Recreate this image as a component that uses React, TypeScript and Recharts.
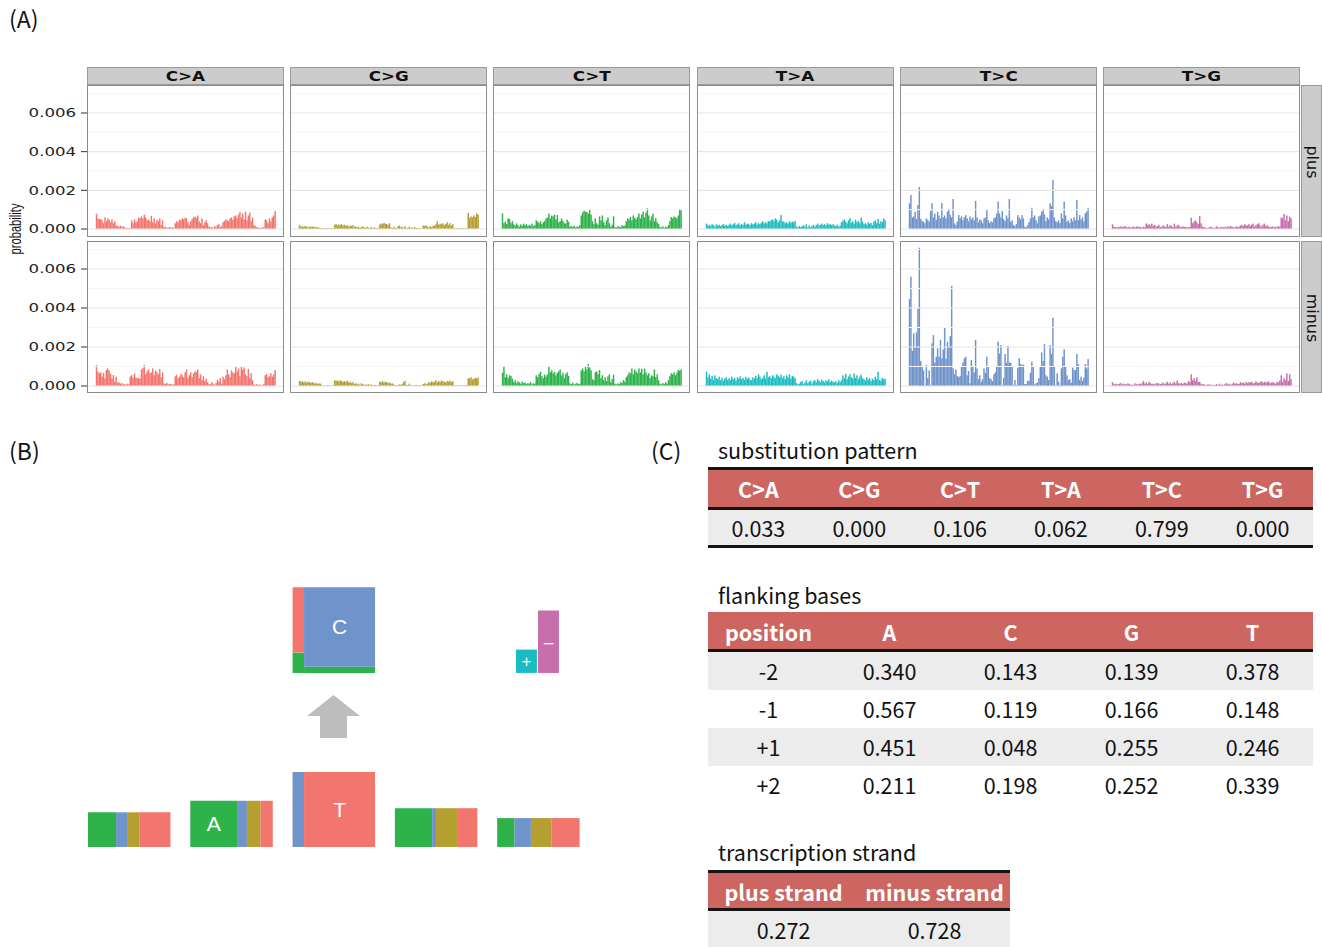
import React from 'react';
import { BarChart, Bar, XAxis, YAxis, ReferenceLine, ComposedChart, ReferenceArea, Scatter, Label } from 'recharts';

// ---------- Panel A data (probability, in units of 1e-5) ----------
const SUBSTITUTIONS = ['C>A', 'C>G', 'C>T', 'T>A', 'T>C', 'T>G'];
const STRANDS = ['plus', 'minus'];
const Y_TICKS = [0, 0.002, 0.004, 0.006];
const Y_MINOR = [0.001, 0.003, 0.005, 0.007];

const CA_PLUS = [79,55,50,52,45,30,60,40,55,48,35,50,30,40,20,15,
12,18,10,15,8,5,5,5,6,45,30,50,35,40,60,55,
65,55,74,60,45,50,40,68,35,55,30,48,40,55,20,45,
10,12,8,6,10,8,9,5,30,40,35,48,45,55,50,58,
55,35,20,40,52,60,64,58,70,40,30,55,20,35,45,30,
12,8,10,5,15,10,20,25,10,15,35,42,50,45,40,55,
60,48,65,70,55,75,88,60,80,50,90,45,70,85,40,60,
20,15,10,8,6,5,10,8,50,45,30,55,40,60,70,92];
const CA_MINUS = [108,74,65,70,48,68,39,82, 90,79,62,39,56,22,48,17, 20,12,15,8,10,6,12,8, 48,56,42,65,45,40,40,38,
85,92,108,60,75,85,65,70, 90,55,80,70,60,88,45,70, 14,10,16,8,12,10,6,10, 50,58,40,48,62,55,45,70,
85,40,55,70,45,65,75,72, 85,40,60,30,50,25,38,20, 10,8,20,12,6,15,30,22, 40,12,48,35,55,85,60,45,
80,70,65,100,75,90,50,103, 85,95,60,50,88,40,65,30, 8,6,10,5,8,4,6,10, 55,62,45,50,65,48,60,82];
const CG_PLUS = [22,12,15,10,16,14,8,12,10,14,9,12,8,10,6,5,
4,3,4,3,5,3,4,4,3,22,26,18,24,20,25,18,
22,15,20,12,18,16,20,10,14,8,12,6,10,14,8,5,
12,6,4,10,5,8,6,4,4,22,28,25,31,28,26,20,
30,8,5,10,6,4,14,18,8,12,5,15,4,6,12,5,
8,5,10,4,6,3,4,3,18,15,20,12,8,14,10,16,
18,24,40,22,28,25,30,20,26,35,22,30,18,25,4,4,
4,3,4,3,4,4,3,5,83,57,65,60,70,62,80,75];
const CG_MINUS = [27,20,25,18,24,17,22,20,15,20,18,12,16,10,14,12,
3,3,3,2,3,3,2,3,3,30,26,28,22,30,24,22,
25,20,28,18,22,15,20,10,15,8,12,6,14,10,5,8,
6,10,5,8,4,6,5,4,3,22,20,24,18,22,20,15,
18,12,14,8,5,4,5,8,6,10,20,26,6,5,12,4,
4,3,4,6,3,5,3,4,10,14,8,12,20,16,24,20,
22,30,18,26,20,28,24,22,18,26,22,28,20,25,4,3,
3,3,4,3,3,3,4,3,40,38,45,34,36,42,38,44];
const CT_PLUS = [81,30,38,25,55,52,30,41, 24,17,29,20,12,24,17,28, 20,25,15,22,18,28,15,20, 45,38,30,40,25,35,42,55,
60,80,55,70,65,75,50,72, 35,40,55,42,30,28,48,38, 12,15,10,18,8,14,10,20, 70,85,95,90,88,80,104,75,
40,25,55,30,22,65,45,70, 35,20,45,60,30,12,22,66, 10,8,14,12,10,20,15,18, 40,55,50,62,45,70,58,50,
62,80,55,75,90,60,85,107, 70,45,65,80,40,55,35,25, 10,8,14,6,12,10,20,40, 62,55,65,60,55,70,104,98];
const CT_MINUS = [68,103,45,60,40,55,52,38, 20,30,15,25,18,12,22,15, 18,10,15,12,20,8,14,12, 55,45,62,73,50,40,58,48,
60,103,70,80,65,72,55,68, 75,85,55,68,40,62,70,52, 14,10,18,8,12,16,10,12, 80,90,75,100,85,113,95,80,
35,30,70,75,60,82,40,55, 30,45,25,50,60,20,35,58, 12,8,14,10,20,15,30,22, 45,55,70,65,90,60,85,75,
65,90,70,88,60,90,70,55, 65,40,55,50,85,45,60,30, 12,8,15,10,20,12,30,50, 65,60,70,55,68,82,78,85];
const TA_PLUS = [28,18,22,15,25,20,12,24,18,22,15,20,25,18,22,16,
22,28,18,25,32,20,24,30,18,26,20,35,22,28,25,20,
30,24,28,35,22,30,26,32,40,28,35,30,42,38,45,50,
40,55,48,35,45,72,40,38,30,35,28,40,32,38,35,42,
12,8,15,10,14,20,12,25,8,18,10,14,22,12,20,28,
18,22,28,20,25,18,30,22,26,20,25,18,15,22,12,18,
35,42,50,38,30,45,55,32,40,28,48,35,42,30,60,38,
25,30,22,35,28,32,20,38,45,30,52,28,40,35,55,45];
const TA_MINUS = [73,45,60,38,52,30,55,40,35,48,30,42,28,38,45,32,
40,30,48,35,42,28,45,38,50,35,42,30,48,36,44,32,
30,45,38,52,40,60,48,35,42,55,38,73,45,50,40,55,
48,40,60,52,45,58,40,50,35,55,45,60,38,52,48,40,
15,8,12,20,25,10,18,30,14,22,28,12,24,30,18,35,
28,20,32,25,18,30,24,35,20,28,22,18,25,15,30,20,
30,55,40,62,35,48,60,45,38,65,42,55,35,48,58,40,
35,28,45,32,40,25,38,30,48,35,73,30,28,42,35,38];
const TC_PLUS = [133,176,59,64,90,52,124,218, 52,41,38,29,55,47,38,93, 133,60,80,47,90,70,55,135, 60,70,55,90,105,72,60,155,
29,20,38,72,55,65,45,60, 72,55,40,65,50,60,45,145, 60,35,50,45,30,55,60,98, 45,30,40,35,55,60,80,142,
81,60,93,50,40,70,55,155, 38,45,20,15,25,72,60,50, 72,55,12,10,20,35,55,110, 60,70,45,30,65,70,90,105,
75,40,60,50,133,120,253,60, 40,35,45,30,81,55,142,70, 38,45,30,55,40,60,45,150, 45,72,50,60,38,81,90,110];
const TC_MINUS = [446,561,180,270,196,275,395,709, 128,100,80,5,108,40,80,5, 219,261,120,150,193,150,236,142, 188,301,140,227,202,256,513,91,
60,85,51,45,51,103,120,142, 150,55,77,14,133,103,70,236, 90,35,55,22,35,90,68,150, 100,40,35,25,60,70,100,227,
167,210,5,43,164,120,205,120, 120,103,5,30,5,94,142,113, 108,110,10,10,27,27,68,125, 100,8,14,17,40,100,172,128,
215,55,48,30,210,164,350,100, 5,65,22,5,90,150,188,100, 55,30,35,17,94,82,82,164, 113,30,48,27,43,113,90,138];
const TG_PLUS = [24,12,10,8,12,10,14,9,12,15,8,10,12,7,10,12,
9,12,14,10,10,8,12,10,29,20,25,18,28,15,22,12,
15,22,10,12,18,14,10,25,12,20,15,10,28,12,18,22,
12,10,14,10,12,8,10,10,58,30,38,45,35,25,67,30,
12,10,8,5,6,10,12,8,5,7,14,10,6,12,8,10,
12,8,14,10,16,12,10,8,14,10,12,18,22,15,25,20,
18,25,15,22,28,12,20,25,30,18,12,22,28,15,20,12,
12,10,14,8,12,10,15,12,60,55,78,45,70,40,65,55];
const TG_MINUS = [20,10,12,8,10,12,15,8,12,10,8,14,10,6,8,5,
14,10,8,12,10,15,25,12,18,10,22,15,10,12,8,14,
15,12,10,12,18,10,14,22,12,18,10,15,22,12,28,15,
12,16,10,18,15,12,25,20,60,30,40,25,45,20,22,12,
8,10,5,6,10,5,8,4,6,5,10,5,12,6,8,5,
10,15,8,12,6,10,18,12,15,10,12,20,15,18,12,22,
15,20,18,22,14,16,24,18,15,20,25,16,22,18,20,24,
14,18,20,16,12,22,18,28,55,20,40,30,65,25,60,35];

const PLUS_SERIES = [CA_PLUS, CG_PLUS, CT_PLUS, TA_PLUS, TC_PLUS, TG_PLUS];
const MINUS_SERIES = [CA_MINUS, CG_MINUS, CT_MINUS, TA_MINUS, TC_MINUS, TG_MINUS];

// ---------- Panel B / C data ----------
const BASES = ['A', 'C', 'G', 'T'];
const FLANK_POSITIONS = ['-2', '-1', '+1', '+2'];
const FLANK_A = [0.340, 0.567, 0.451, 0.211];
const FLANK_C = [0.143, 0.119, 0.048, 0.198];
const FLANK_G = [0.139, 0.166, 0.255, 0.252];
const FLANK_T = [0.378, 0.148, 0.246, 0.339];
const SUBST_PROB = [0.033, 0.000, 0.106, 0.062, 0.799, 0.000];
const STRAND_LABELS = ['plus strand', 'minus strand'];
const STRAND_PROB = [0.272, 0.728];
// logo block heights (relative units) for flank positions, reference base and substituted base
const FLANK_HEIGHT = [0.42, 0.56, 0.47, 0.35];
const REF_HEIGHT = 0.91;
const ALT_HEIGHT = 1.04;

const FACET_COLORS = ['#F3766E', '#B59F30', '#2EB34B', '#1DBDC2', '#6F93CB', '#C96EAA'];
const BASE_COLORS: Record<string, string> = { A: '#2EB34B', C: '#6F93CB', G: '#B59F30', T: '#F3766E' };
const STRAND_COLORS = ['#1BBCC1', '#C76EAB'];
const RED = '#CD6661';
const GRAY_ROW = '#EBECEB';
const JP = '"Noto Sans CJK JP", "Noto Sans", sans-serif';

const PANEL_W = 197;
const PANEL_H = 152;
const PANEL_PITCH = 203.2;
const PANEL_LEFT0 = 87;
const ROW_TOPS = [85, 241];
const DOMAINS: [number, number][] = [[-0.000414, 0.007448], [-0.000359, 0.007436]];

const AxisTick = (p: any) => (
  <g transform={`translate(${p.x},${p.y})`}>
    <text textAnchor="end" dy="0.36em" transform="scale(1.38,1)" fontSize={12}
      fontFamily="DejaVu Sans" fill="#222">{Number(p.payload.value).toFixed(3)}</text>
  </g>
);

function Facet({ values, color, left, top, domain, showAxis }: any) {
  const data = values.map((v: number, i: number) => ({ i, v: v * 1e-5 }));
  const axisW = showAxis ? 87 : 0;
  const shape = (p: any) => {
    const w = 1.45;
    const cx = p.x + p.width / 2;
    return <rect x={cx - w / 2} y={p.y} width={w} height={Math.max(0, p.height)} fill={color} />;
  };
  return (
    <div style={{ position: 'absolute', left: left - axisW, top, width: PANEL_W + axisW, height: PANEL_H }}>
      <BarChart width={PANEL_W + axisW} height={PANEL_H} data={data}
        margin={{ top: 0, right: 0, bottom: 0, left: 0 }} barCategoryGap={0}>
        <XAxis dataKey="i" hide padding={{ left: 9, right: 8 }} />
        <YAxis type="number" hide={!showAxis} width={axisW} domain={domain} allowDataOverflow interval={0}
          ticks={Y_TICKS} axisLine={false} tickLine={{ stroke: '#333' }} tickSize={6} tickMargin={5}
          tick={<AxisTick />} />
        {Y_MINOR.map((v) => <ReferenceLine key={'m' + v} y={v} stroke="#F6F6F6" strokeWidth={1} />)}
        {Y_TICKS.map((v) => <ReferenceLine key={'M' + v} y={v} stroke="#E6E6E6" strokeWidth={1.2} />)}
        <Bar dataKey="v" fill={color} isAnimationActive={false} shape={shape} />
      </BarChart>
      <div style={{ position: 'absolute', left: axisW, top: 0, width: PANEL_W, height: PANEL_H,
        border: '1px solid #8C8C8C', boxSizing: 'border-box', pointerEvents: 'none' }} />
    </div>
  );
}

function Txt({ x, y, children, size = 21, weight = 400, color = '#111', align = 'left', w = 300, font = JP, style = {} }: any) {
  const h = size * 1.6;
  const left = align === 'center' ? x - w / 2 : x;
  return (
    <div style={{ position: 'absolute', left, top: y - h / 2, width: w, height: h, lineHeight: h + 'px',
      fontSize: size, fontWeight: weight, color, textAlign: align, fontFamily: font, whiteSpace: 'nowrap', ...style }}>
      {children}
    </div>
  );
}

function Rule({ x, y, w, h, c = '#141414' }: any) {
  return <div style={{ position: 'absolute', left: x, top: y, width: w, height: h, background: c }} />;
}

// ---------- Panel B (logo) ----------
const SLOT = 1.24;
function buildLogo() {
  const rects: any[] = [];
  const flankSlots = [0, 1, 3, 4];
  FLANK_POSITIONS.forEach((_, k) => {
    const probs = [FLANK_A[k], FLANK_C[k], FLANK_G[k], FLANK_T[k]];
    let x = flankSlots[k] * SLOT;
    probs.forEach((p, b) => {
      rects.push({ x1: x, x2: x + p, y1: 0, y2: FLANK_HEIGHT[k], fill: BASE_COLORS[BASES[b]], label: p >= 0.5 ? BASES[b] : null });
      x += p;
    });
  });
  const cTot = SUBST_PROB[0] + SUBST_PROB[1] + SUBST_PROB[2];
  const tTot = SUBST_PROB[3] + SUBST_PROB[4] + SUBST_PROB[5];
  const x0 = 2 * SLOT;
  rects.push({ x1: x0, x2: x0 + cTot, y1: 0, y2: REF_HEIGHT, fill: BASE_COLORS.C, label: cTot >= 0.5 ? 'C' : null });
  rects.push({ x1: x0 + cTot, x2: x0 + 1, y1: 0, y2: REF_HEIGHT, fill: BASE_COLORS.T, label: tTot >= 0.5 ? 'T' : null });
  const yb = 2.109;
  const colC = [['A', SUBST_PROB[0]], ['G', SUBST_PROB[1]], ['T', SUBST_PROB[2]]] as [string, number][];
  const colT = [['A', SUBST_PROB[3]], ['C', SUBST_PROB[4]], ['G', SUBST_PROB[5]]] as [string, number][];
  let y = yb;
  colC.forEach(([b, p]) => {
    const h = (p / cTot) * ALT_HEIGHT;
    if (h > 0) rects.push({ x1: x0, x2: x0 + cTot, y1: y, y2: y + h, fill: BASE_COLORS[b], label: null });
    y += h;
  });
  y = yb;
  colT.forEach(([b, p]) => {
    const h = (p / tTot) * ALT_HEIGHT;
    if (h > 0) rects.push({ x1: x0 + cTot, x2: x0 + 1, y1: y, y2: y + h, fill: BASE_COLORS[b], label: p / tTot >= 0.5 ? b : null });
    y += h;
  });
  const sx = [[5.188, 5.442], [5.455, 5.709]];
  ['+', '–'].forEach((lab, i) => {
    rects.push({ x1: sx[i][0], x2: sx[i][1], y1: yb, y2: yb + STRAND_PROB[i] * ALT_HEIGHT, fill: STRAND_COLORS[i], label: lab, small: true });
  });
  return rects;
}

const arrowShape = (p: any) => {
  const { x, y, width: w, height: h } = p;
  const pts = [
    [x + w / 2, y], [x + w, y + h * 0.49], [x + w * 0.755, y + h * 0.49], [x + w * 0.755, y + h],
    [x + w * 0.245, y + h], [x + w * 0.245, y + h * 0.49], [x, y + h * 0.49],
  ].map((q) => q.join(',')).join(' ');
  return <polygon points={pts} fill="#BDBDBD" />;
};

function Logo() {
  const rects = buildLogo();
  return (
    <div style={{ position: 'absolute', left: 80, top: 570, width: 500, height: 290 }}>
      <ComposedChart width={500} height={290} margin={{ top: 0, right: 0, bottom: 0, left: 0 }}>
        <XAxis type="number" dataKey="x" domain={[-0.097, 5.964]} hide allowDataOverflow />
        <YAxis type="number" dataKey="y" domain={[-0.158, 3.357]} hide allowDataOverflow />
        <Scatter data={[{ x: 0, y: 0 }]} fill="none" isAnimationActive={false} />
        {rects.map((r, i) => (
          <ReferenceArea key={i} x1={r.x1} x2={r.x2} y1={r.y1} y2={r.y2} fill={r.fill} fillOpacity={1} stroke="none">
            {r.label ? <Label value={r.label} position="center" fill="#FFFFFF"
              fontSize={r.small ? 17 : 21} fontFamily="Liberation Sans" /> : null}
          </ReferenceArea>
        ))}
        <ReferenceArea x1={2.655} x2={3.297} y1={1.321} y2={1.842} shape={arrowShape} fillOpacity={1} />
      </ComposedChart>
    </div>
  );
}

export default function App() {
  const colCenters6 = SUBSTITUTIONS.map((_, i) => 708 + 605 / 6 * (i + 0.5));
  const colCenters5 = [0, 1, 2, 3, 4].map((i) => 708 + 121 * (i + 0.5));
  const flankRows = FLANK_POSITIONS.map((p, k) => [p, FLANK_A[k], FLANK_C[k], FLANK_G[k], FLANK_T[k]]);
  const rowTops = [652, 689.5, 727.5, 766];
  const FS = 21.5;
  return (
    <div style={{ position: 'absolute', left: 0, top: 0, width: 1322, height: 947, background: '#fff', overflow: 'hidden' }}>
      {/* (A) */}
      <Txt x={9} y={18} size={23}>(A)</Txt>
      {SUBSTITUTIONS.map((s, i) => {
        const left = PANEL_LEFT0 + PANEL_PITCH * i;
        return (
          <div key={s} style={{ position: 'absolute', left, top: 67, width: PANEL_W, height: 18, background: '#CCCCCC',
            border: '1px solid #9A9A9A', boxSizing: 'border-box', textAlign: 'center', lineHeight: '16px',
            fontFamily: 'DejaVu Sans', fontWeight: 700, fontSize: 14, color: '#111' }}>
            <span style={{ display: 'inline-block', transform: 'scaleX(1.2)' }}>{s}</span>
          </div>
        );
      })}
      {STRANDS.map((st, r) => (
        <div key={st} style={{ position: 'absolute', left: 1301, top: ROW_TOPS[r], width: 21, height: PANEL_H,
          background: '#CCCCCC', border: '1px solid #9A9A9A', boxSizing: 'border-box' }}>
          <div style={{ position: 'absolute', left: -30, top: PANEL_H / 2 - 10, width: 80, height: 20, lineHeight: '20px',
            textAlign: 'center', transform: 'rotate(90deg)', fontFamily: 'DejaVu Sans', fontSize: 16, color: '#111' }}>{st}</div>
        </div>
      ))}
      {STRANDS.map((st, r) => SUBSTITUTIONS.map((s, i) => (
        <Facet key={st + s} values={(r === 0 ? PLUS_SERIES : MINUS_SERIES)[i]} color={FACET_COLORS[i]}
          left={PANEL_LEFT0 + PANEL_PITCH * i} top={ROW_TOPS[r]} domain={DOMAINS[r]} showAxis={i === 0} />
      )))}
      <div style={{ position: 'absolute', left: -34, top: 217, width: 100, height: 24, lineHeight: '24px', textAlign: 'center',
        transform: 'rotate(-90deg) scaleX(0.66)', fontFamily: 'Liberation Sans', fontSize: 17, color: '#111' }}>probability</div>

      {/* (B) */}
      <Txt x={9} y={450} size={23}>(B)</Txt>
      <Logo />

      {/* (C) */}
      <Txt x={651} y={450} size={23}>(C)</Txt>
      <Txt x={718} y={450} size={FS}>substitution pattern</Txt>
      <Rule x={708} y={467} w={605} h={3} />
      <div style={{ position: 'absolute', left: 708, top: 470, width: 605, height: 37, background: RED }} />
      <Rule x={708} y={507} w={605} h={3} />
      <div style={{ position: 'absolute', left: 708, top: 510, width: 605, height: 35, background: GRAY_ROW }} />
      <Rule x={708} y={545} w={605} h={2.5} />
      {SUBSTITUTIONS.map((s, i) => (
        <Txt key={'h' + s} x={colCenters6[i]} y={489} w={100} align="center" weight={700} color="#fff" size={FS}>{s}</Txt>
      ))}
      {SUBST_PROB.map((v, i) => (
        <Txt key={'v' + i} x={colCenters6[i]} y={528} w={100} align="center" size={FS}>{v.toFixed(3)}</Txt>
      ))}

      <Txt x={718} y={595} size={FS}>flanking bases</Txt>
      <div style={{ position: 'absolute', left: 708, top: 612, width: 605, height: 37, background: RED }} />
      <Rule x={708} y={649} w={605} h={3} />
      {rowTops.map((t, k) => (
        <div key={'r' + k} style={{ position: 'absolute', left: 708, top: t, width: 605, height: (rowTops[k + 1] || 805) - t,
          background: k % 2 === 0 ? GRAY_ROW : '#fff' }} />
      ))}
      {['position', ...BASES].map((h, i) => (
        <Txt key={'fh' + h} x={colCenters5[i]} y={632} w={120} align="center" weight={700} color="#fff" size={FS}>{h}</Txt>
      ))}
      {flankRows.map((row, k) => row.map((v, i) => (
        <Txt key={'f' + k + i} x={colCenters5[i]} y={rowTops[k] + 19.5} w={120} align="center" size={FS}>
          {typeof v === 'number' ? v.toFixed(3) : v}
        </Txt>
      )))}

      <Txt x={718} y={852} size={FS}>transcription strand</Txt>
      <Rule x={708} y={870} w={302} h={3} />
      <div style={{ position: 'absolute', left: 708, top: 873, width: 302, height: 35, background: RED }} />
      <Rule x={708} y={908} w={302} h={3} />
      <div style={{ position: 'absolute', left: 708, top: 911, width: 302, height: 40, background: GRAY_ROW }} />
      {STRAND_LABELS.map((s, i) => (
        <Txt key={'sh' + i} x={708 + 151 * (i + 0.5)} y={892} w={150} align="center" weight={700} color="#fff" size={FS}>{s}</Txt>
      ))}
      {STRAND_PROB.map((v, i) => (
        <Txt key={'sv' + i} x={708 + 151 * (i + 0.5)} y={930} w={150} align="center" size={FS}>{v.toFixed(3)}</Txt>
      ))}
    </div>
  );
}
